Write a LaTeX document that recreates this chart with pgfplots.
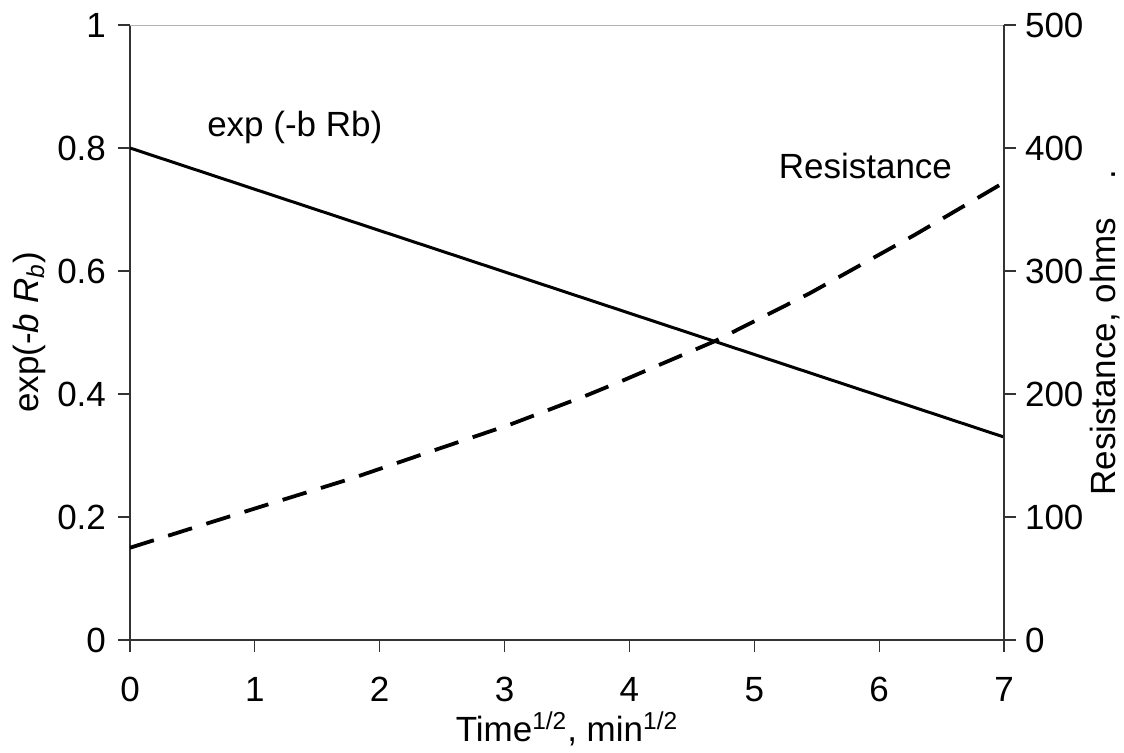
\documentclass[border=0pt]{standalone}
\usepackage{fontspec}
\setmainfont{Liberation Sans}
\usepackage{pgfplots}
\pgfplotsset{compat=1.18}
\newcommand{\fs}{\fontsize{17.5}{21}\selectfont}
\begin{document}
\begin{tikzpicture}
\useasboundingbox (-65pt,-56pt) rectangle (497pt,320pt);
\pgfplotsset{
  common/.style={
    scale only axis, width=437pt, height=307.5pt, at={(0,0)}, anchor=south west,
    xmin=0, xmax=7,
    tick align=outside, major tick length=6pt,
    tick style={line width=0.6pt, black!80},
    axis line style={line width=0.75pt, black!80},
    ticklabel style={font=\fs},
    label style={font=\fs},
    /pgf/number format/assume math mode=true,
  }
}
\begin{axis}[common,
  axis x line*=bottom, axis y line*=left,
  ymin=0, ymax=1,
  xtick={0,1,2,3,4,5,6,7}, ytick={0,0.2,0.4,0.6,0.8,1},
  xticklabel style={yshift=-9pt},
  yticklabel style={xshift=-2.5pt},
  xlabel={Time\textsuperscript{1/2}, min\textsuperscript{1/2}},
  ylabel={exp(-\textit{b} \textit{R}\textsubscript{\textit{b}})},
  xlabel style={at={(axis description cs:0.5,0)}, anchor=north, inner sep=0pt, yshift=-35.5pt},
  ylabel style={at={(axis description cs:-0.1339,0.5)}, anchor=north, inner sep=0pt},
]
\addplot[black, line width=1.5pt] coordinates {(0,0.8) (7,0.33)};
\draw[black!30, line width=0.75pt] (axis cs:0,1) -- (axis cs:7,1);
\node[font=\fs] at (axis cs:1.32,0.833) {exp (-b Rb)};
\node[font=\fs] at (axis cs:5.89,0.771) {Resistance};
\end{axis}
\begin{axis}[common,
  axis x line=none, axis y line*=right,
  ymin=0, ymax=500, ytick={0,100,200,300,400,500},
  yticklabel style={xshift=1pt},
  ylabel={Resistance, ohms\hspace{1.1em}.},
  ylabel style={at={(axis description cs:1.0984,0.5)}, anchor=north, inner sep=0pt},
]
\addplot[black, line width=1.9pt, dash pattern=on 12.5pt off 7.5pt] coordinates {
(0,75) (0.5,91) (1.145,111.5) (1.78,131.5) (2.40,153) (3.04,175) (3.66,199)
(3.96,211.5) (4.27,225) (4.685,243) (5.446,282) (6.287,329.5) (7,372)
};
\end{axis}
\end{tikzpicture}
\end{document}
